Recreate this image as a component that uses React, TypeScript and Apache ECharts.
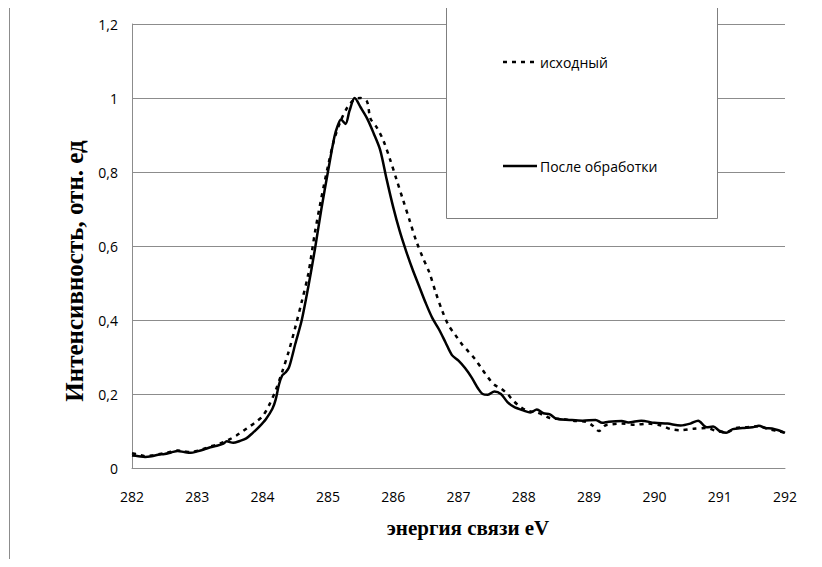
import React, { useEffect, useRef } from "react";
import * as echarts from "echarts";

const seriesNames = ["исходный", "После обработки"];
const xAxisTitle = "энергия связи eV";
const yAxisTitle = "Интенсивность, отн. ед";
const xTicks = [282, 283, 284, 285, 286, 287, 288, 289, 290, 291, 292];
const yTicks = [0, 0.2, 0.4, 0.6, 0.8, 1, 1.2];

// исходный (dashed)
const originalX = [
  282.0, 282.1, 282.2, 282.3, 282.4, 282.5, 282.6, 282.7, 282.8, 282.9,
  283.0, 283.1, 283.2, 283.3, 283.4, 283.5, 283.6, 283.7, 283.8, 283.9,
  284.0, 284.1, 284.2, 284.3, 284.4, 284.5, 284.6, 284.7, 284.8, 284.9,
  285.0, 285.1, 285.2, 285.3, 285.4, 285.5, 285.6, 285.65, 285.75, 285.85,
  285.95, 286.05, 286.15, 286.25, 286.35, 286.45, 286.55, 286.65, 286.75, 286.85,
  286.95, 287.05, 287.15, 287.25, 287.35, 287.45, 287.55, 287.65, 287.75, 287.85,
  287.95, 288.05, 288.2, 288.3, 288.4, 288.6, 288.8, 288.95, 289.05, 289.15,
  289.25, 289.35, 289.5, 289.7, 289.9, 290.1, 290.25, 290.4, 290.6, 290.8,
  290.95, 291.1, 291.25, 291.4, 291.6, 291.75, 291.9, 292.0,
];
const originalY = [
  0.040, 0.036, 0.032, 0.034, 0.037, 0.040, 0.044, 0.047, 0.045, 0.043,
  0.047, 0.052, 0.058, 0.063, 0.070, 0.078, 0.088, 0.100, 0.112, 0.125,
  0.140, 0.170, 0.210, 0.260, 0.315, 0.380, 0.450, 0.525, 0.635, 0.730,
  0.815, 0.890, 0.940, 0.975, 0.995, 1.000, 0.990, 0.945, 0.920, 0.885,
  0.835, 0.780, 0.725, 0.670, 0.615, 0.570, 0.530, 0.475, 0.425, 0.385,
  0.360, 0.335, 0.315, 0.295, 0.270, 0.245, 0.225, 0.215, 0.200, 0.180,
  0.165, 0.155, 0.150, 0.143, 0.135, 0.132, 0.127, 0.125, 0.115, 0.100,
  0.115, 0.118, 0.120, 0.117, 0.120, 0.115, 0.105, 0.102, 0.106, 0.108,
  0.100, 0.097, 0.108, 0.110, 0.113, 0.105, 0.100, 0.095,
];

// После обработки (solid)
const processedX = [
  282.0, 282.1, 282.2, 282.3, 282.4, 282.5, 282.6, 282.7, 282.8, 282.9,
  283.0, 283.1, 283.2, 283.3, 283.4, 283.45, 283.55, 283.65, 283.75, 283.85,
  283.95, 284.05, 284.15, 284.2, 284.25, 284.3, 284.35, 284.4, 284.45, 284.5,
  284.6, 284.7, 284.8, 284.9, 285.0, 285.1, 285.15, 285.2, 285.27, 285.33,
  285.41, 285.5, 285.6, 285.7, 285.8, 285.9, 286.0, 286.1, 286.2, 286.3,
  286.4, 286.5, 286.6, 286.7, 286.8, 286.9, 287.0, 287.1, 287.2, 287.3,
  287.37, 287.45, 287.55, 287.65, 287.75, 287.85, 288.0, 288.1, 288.2, 288.3,
  288.4, 288.5, 288.7, 288.9, 289.1, 289.2, 289.3, 289.5, 289.6, 289.8,
  290.0, 290.2, 290.4, 290.55, 290.67, 290.8, 290.9, 291.0, 291.1, 291.2,
  291.35, 291.5, 291.6, 291.7, 291.8, 291.9, 292.0,
];
const processedY = [
  0.034, 0.032, 0.030, 0.032, 0.036, 0.038, 0.042, 0.046, 0.043, 0.041,
  0.045, 0.050, 0.056, 0.060, 0.066, 0.072, 0.068, 0.073, 0.080, 0.095,
  0.112, 0.132, 0.160, 0.185, 0.225, 0.250, 0.258, 0.270, 0.300, 0.335,
  0.400, 0.490, 0.590, 0.700, 0.800, 0.895, 0.925, 0.942, 0.930, 0.965,
  1.000, 0.975, 0.945, 0.905, 0.860, 0.780, 0.705, 0.640, 0.585, 0.535,
  0.490, 0.445, 0.405, 0.375, 0.340, 0.305, 0.290, 0.270, 0.245, 0.215,
  0.200, 0.198, 0.207, 0.200, 0.178, 0.165, 0.155, 0.150, 0.158, 0.148,
  0.145, 0.133, 0.130, 0.128, 0.130, 0.122, 0.125, 0.127, 0.123, 0.128,
  0.122, 0.120, 0.115, 0.120, 0.128, 0.110, 0.112, 0.100, 0.095, 0.105,
  0.108, 0.110, 0.114, 0.108, 0.107, 0.102, 0.095,
];

const fmt = (v: number) => String(+v.toFixed(1)).replace(".", ",");

export default function App() {
  const ref = useRef<HTMLDivElement>(null);
  useEffect(() => {
    if (!ref.current) return;
    const chart = echarts.init(ref.current, null, { renderer: "svg" });
    const orig = originalX.map((x, i) => [x, originalY[i]]);
    const proc = processedX.map((x, i) => [x, processedY[i]]);
    chart.setOption({
      animation: false,
      backgroundColor: "#ffffff",
      grid: { left: 132, right: 37, top: 24, bottom: 99, containLabel: false },
      xAxis: {
        type: "value",
        min: xTicks[0],
        max: xTicks[xTicks.length - 1],
        interval: 1,
        axisLine: { show: true, lineStyle: { color: "#8c8c8c", width: 1 } },
        axisTick: { show: false },
        splitLine: { show: false },
        axisLabel: {
          margin: 21,
          color: "#000",
          fontFamily: "Open Sans",
          fontSize: 14,
          formatter: (v: number) => String(v),
        },
      },
      yAxis: {
        type: "value",
        min: yTicks[0],
        max: yTicks[yTicks.length - 1],
        interval: 0.2,
        axisLine: { show: true, lineStyle: { color: "#8c8c8c", width: 1 } },
        axisTick: { show: false },
        splitLine: { show: true, lineStyle: { color: "#8c8c8c", width: 1 } },
        axisLabel: {
          margin: 14,
          color: "#000",
          fontFamily: "Open Sans",
          fontSize: 14,
          formatter: (v: number) => fmt(v),
        },
      },
      series: [
        {
          name: seriesNames[0],
          type: "line",
          data: orig,
          showSymbol: false,
          smooth: 0.3,
          z: 2,
          lineStyle: { color: "#000", width: 2.5, type: [4, 5] },
        },
        {
          name: seriesNames[1],
          type: "line",
          data: proc,
          showSymbol: false,
          smooth: 0.3,
          z: 3,
          lineStyle: { color: "#000", width: 2.5, type: "solid" },
        },
      ],
      graphic: [
        {
          type: "rect",
          shape: { x: 9.5, y: 7.5, width: 806, height: 580 },
          style: { fill: "none", stroke: "#8c8c8c", lineWidth: 1 },
          silent: true,
          z: 0,
        },
        {
          type: "rect",
          shape: { x: 446.5, y: 7.5, width: 271, height: 211 },
          style: { fill: "#ffffff", stroke: "#7f7f7f", lineWidth: 1 },
          z: 10,
        },
        {
          type: "line",
          shape: { x1: 503, y1: 62, x2: 537, y2: 62 },
          style: { stroke: "#000", lineWidth: 2.5, lineDash: [4, 5] },
          z: 11,
        },
        {
          type: "text",
          x: 540,
          y: 62,
          style: {
            text: seriesNames[0],
            fill: "#000",
            font: "14px 'Open Sans'",
            verticalAlign: "middle",
          },
          z: 11,
        },
        {
          type: "line",
          shape: { x1: 503, y1: 166, x2: 537, y2: 166 },
          style: { stroke: "#000", lineWidth: 2.5 },
          z: 11,
        },
        {
          type: "text",
          x: 540,
          y: 166,
          style: {
            text: seriesNames[1],
            fill: "#000",
            font: "14px 'Open Sans'",
            verticalAlign: "middle",
          },
          z: 11,
        },
        {
          type: "text",
          x: 468,
          y: 528,
          style: {
            text: xAxisTitle,
            fill: "#000",
            font: "bold 21px 'Liberation Serif'",
            align: "center",
            verticalAlign: "middle",
          },
        },
        {
          type: "text",
          x: 74,
          y: 271,
          rotation: Math.PI / 2,
          style: {
            text: yAxisTitle,
            fill: "#000",
            font: "bold 25px 'Liberation Serif'",
            align: "center",
            verticalAlign: "middle",
          },
        },
      ],
    });
    return () => chart.dispose();
  }, []);
  return (
    <div
      ref={ref}
      style={{ width: 822, height: 567, margin: -8, position: "relative" }}
    />
  );
}
